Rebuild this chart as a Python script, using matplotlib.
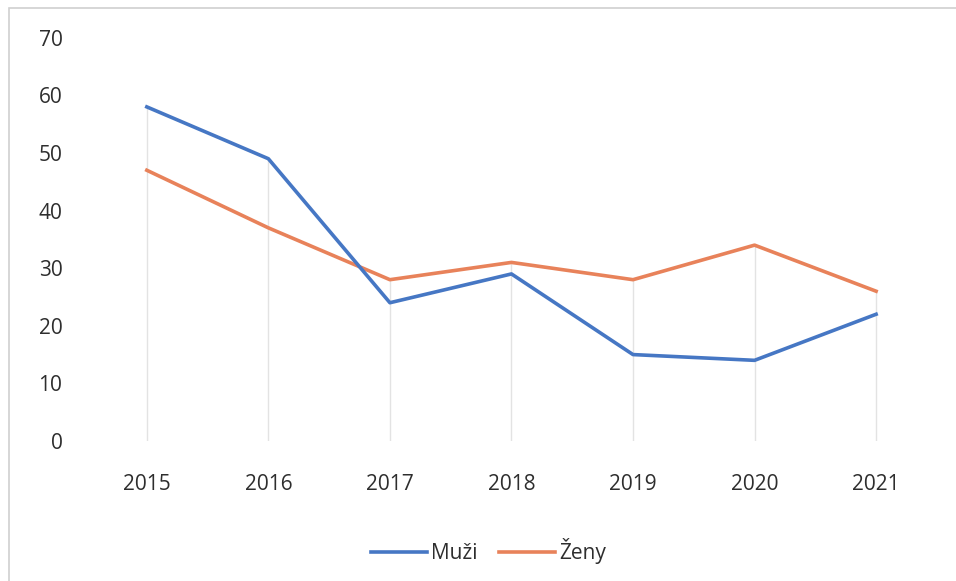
import matplotlib
matplotlib.use("Agg")
from matplotlib import pyplot as plt
from matplotlib.patches import Rectangle

years = ["2015", "2016", "2017", "2018", "2019", "2020", "2021"]
muzi = [58, 49, 24, 29, 15, 14, 22]
zeny = [47, 37, 28, 31, 28, 34, 26]

plt.rcParams['font.family'] = ['Open Sans', 'DejaVu Sans']

fig = plt.figure(figsize=(9.56, 5.81), dpi=100)
ax = fig.add_axes([0.09, 0.241, 0.89, 0.694])

x = list(range(len(years)))
# drop lines from the highest point down to the axis
tops = [max(a, b) for a, b in zip(muzi, zeny)]
ax.vlines(x, 0, tops, color='#e3e3e3', lw=1.0, zorder=1)

ax.plot(x, muzi, color='#4677c4', lw=2.6, label='Muži', solid_joinstyle='round', zorder=3)
ax.plot(x, zeny, color='#e8825a', lw=2.6, label='Ženy', solid_joinstyle='round', zorder=2)

ax.set_xlim(-0.5, len(years) - 0.5)
ax.set_ylim(0, 70)
ax.set_yticks(range(0, 71, 10))
ax.set_xticks(x)
ax.set_xticklabels(years)
for s in ax.spines.values():
    s.set_visible(False)
ax.tick_params(length=0, labelsize=15, colors='#2e2e2e')
ax.tick_params(axis='x', pad=24)
ax.tick_params(axis='y', pad=17)

leg = ax.legend(loc='upper center', bbox_to_anchor=(0.473, -0.195), ncol=2, frameon=False,
                fontsize=15, handlelength=2.7, handletextpad=0.2, columnspacing=1.0)
for t in leg.get_texts():
    t.set_color('#2e2e2e')

fig.patches.append(Rectangle((0.009, -0.01), 1.0, 0.997, transform=fig.transFigure,
                             fill=False, edgecolor='#d0d0d0', lw=1.2))

fig.savefig('out.png', dpi=100)
